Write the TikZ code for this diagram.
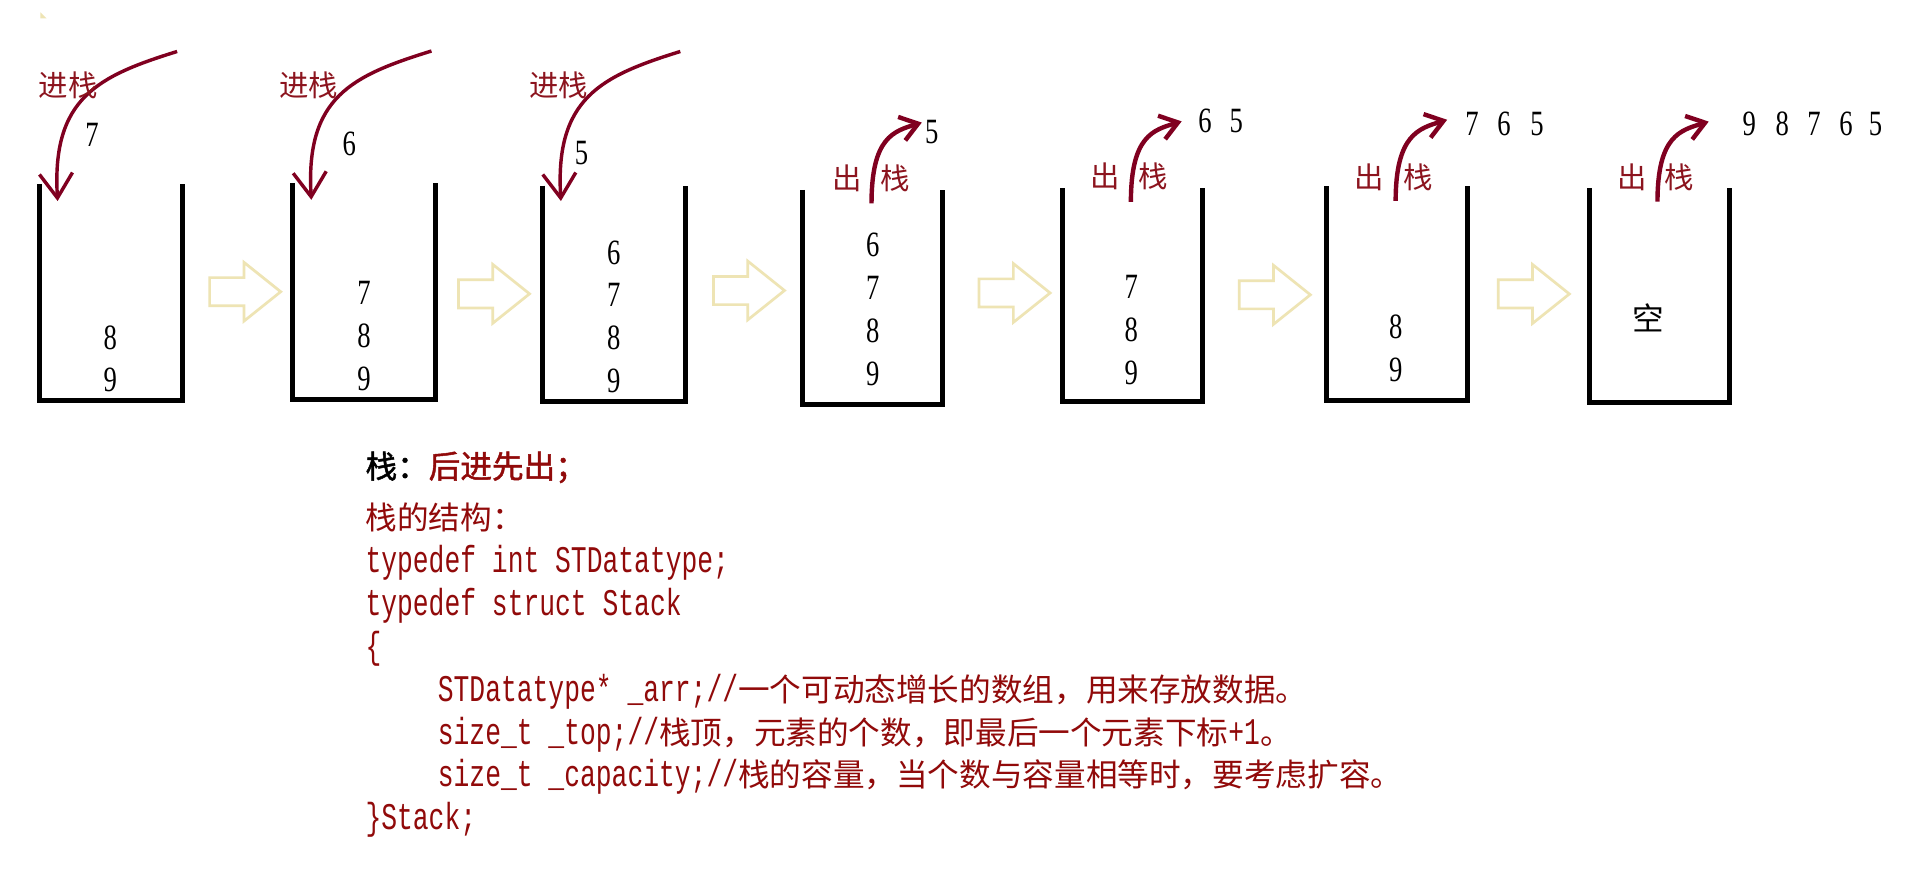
\documentclass[tikz,border=0pt]{standalone}
\usepackage{fontspec}
\usetikzlibrary{arrows.meta}
\newfontfamily\cjk{Noto Sans CJK SC}
\newfontfamily\cjkb[FakeBold=1.5]{Noto Sans CJK SC}
\newfontfamily\digitfont[FakeStretch=0.75]{Liberation Serif}
\newfontfamily\codefont[FakeStretch=0.7]{Liberation Mono}
\newcommand\cjs{\cjk\fontsize{25.8}{35}\selectfont}
\definecolor{arrowred}{RGB}{128,0,32}
\definecolor{labelred}{RGB}{140,20,30}
\definecolor{codered}{RGB}{145,10,10}
\definecolor{beige}{RGB}{238,228,180}
\newcommand\stk[4]{\draw[wall] (#1,#3) -- (#1,#4) -- (#2,#4) -- (#2,#3);}
\newcommand\hol[3]{\draw[hollow] (#2,#3-11.5) -- (#2+28,#3-11.5) -- (#2+28,#3-24) -- (#2+58,#3) -- (#2+28,#3+24) -- (#2+28,#3+11.5) -- (#2,#3+11.5) -- cycle;}
\newcommand\inarr[5]{\coordinate (#1s) at (#2,#3); \coordinate (#1t) at (#4,#5);
  \draw[inarrow] (#1s) .. controls +(-64.5,20) and +(-5,-84) .. (#1t);}
\newcommand\outarr[5]{\coordinate (#1s) at (#2,#3); \coordinate (#1t) at (#4,#5);
  \draw[outarrow] (#1s) .. controls +(0,-54) and +(-23,7) .. (#1t);}
\begin{document}
\begin{tikzpicture}[x=1pt,y=-1pt,
  wall/.style={line width=4pt, line join=miter},
  hollow/.style={draw=beige, line width=2.2pt, line join=miter},
  inarrow/.style={draw=arrowred, line width=2.8pt, -{Straight Barb[length=20pt,width=27pt]}},
  outarrow/.style={draw=arrowred, line width=3.6pt, -{Straight Barb[length=14pt,width=20pt]}},
  dig/.style={font=\digitfont\fontsize{29}{29}\selectfont, inner sep=0pt},
  lab/.style={font=\cjk\fontsize{24}{24}\selectfont, text=labelred, inner sep=0pt},
  code/.style={anchor=base west, inner sep=0pt, text=codered, font=\codefont\fontsize{30.7}{35}\selectfont},
  cj/.style={font=\cjs}
]
\fill[white] (0,0) rectangle (1568,723);
\useasboundingbox (0,0) rectangle (1568,723);
\fill[beige] (33,10) -- (38,15) -- (33,15) -- cycle;

% stacks
\stk{32}{149}{150}{327}
\stk{238.6}{355.6}{149.5}{325.6}
\stk{442.6}{558.9}{151.4}{327.8}
\stk{655}{769}{155}{330}
\stk{867}{981}{153.6}{327.8}
\stk{1082}{1197}{152}{327}
\stk{1296.6}{1410.6}{153.6}{328}

% hollow arrows
\hol{h1}{171}{238}
\hol{h2}{374}{239.7}
\hol{h3}{582}{237}
\hol{h4}{798.7}{239}
\hol{h5}{1011}{240.5}
\hol{h6}{1222.3}{239.8}

% stack contents
\node[dig] (a8) at (90,275.5) {8};
\node[dig] (a9) at (90,310) {9};
\node[dig] (b7) at (297,239) {7};
\node[dig] (b8) at (297,274) {8};
\node[dig] (b9) at (297,309) {9};
\node[dig] (c6) at (500.8,206) {6};
\node[dig] (c7) at (500.8,240.7) {7};
\node[dig] (c8) at (500.8,275.5) {8};
\node[dig] (c9) at (500.8,310.7) {9};
\node[dig] (d6) at (712,200) {6};
\node[dig] (d7) at (712,235) {7};
\node[dig] (d8) at (712,270) {8};
\node[dig] (d9) at (712,305) {9};
\node[dig] (e7) at (923,234) {7};
\node[dig] (e8) at (923,269) {8};
\node[dig] (e9) at (923,304) {9};
\node[dig] (f8) at (1138.6,267) {8};
\node[dig] (f9) at (1138.6,301.6) {9};
\node[cj] (g0) at (1345,259) {空};

% push arrows
\inarr{p1}{144.5}{42}{47}{164}
\inarr{p2}{352}{41.6}{254}{163}
\inarr{p3}{555}{42}{457.6}{164}
\node[lab] (pl1) at (55.7,69.6) {进栈};
\node[lab] (pl2) at (252,69.5) {进栈};
\node[lab] (pl3) at (455.7,70) {进栈};
\node[dig] (pn1) at (75,110) {7};
\node[dig] (pn2) at (285,117) {6};
\node[dig] (pn3) at (474.5,125) {5};

% pop arrows
\outarr{q4}{711}{166}{752}{100}
\outarr{q5}{922.6}{164.6}{964}{99}
\outarr{q6}{1138.6}{163.8}{1180.6}{97.7}
\outarr{q7}{1352.2}{164.5}{1394}{99.2}
\node[lab] (c4a) at (691,145.4) {出};
\node[lab] (c4b) at (730,145.4) {栈};
\node[lab] (c5a) at (901.7,144) {出};
\node[lab] (c5b) at (940.8,144) {栈};
\node[lab] (c6a) at (1117.4,144.7) {出};
\node[lab] (c6b) at (1156.9,144.7) {栈};
\node[lab] (c7a) at (1331.6,145) {出};
\node[lab] (c7b) at (1370.2,145) {栈};
\node[dig] (o4) at (760.2,108) {5};
\node[dig] (o5a) at (983,99) {6};
\node[dig] (o5b) at (1008.5,99) {5};
\node[dig] (o6a) at (1201,101) {7};
\node[dig] (o6b) at (1227,101) {6};
\node[dig] (o6c) at (1254,101) {5};
\node[dig] (o7a) at (1427,101) {9};
\node[dig] (o7b) at (1454,101) {8};
\node[dig] (o7c) at (1480,101) {7};
\node[dig] (o7d) at (1506,101) {6};
\node[dig] (o7e) at (1530,101) {5};

% text block
\node[anchor=base west, inner sep=0pt, font=\cjkb\fontsize{25.8}{30}\selectfont] (t0) at (298,390)
  {{\color{black}栈：}{\color{codered}后进先出；}};
\node[code, font=\cjs] (t1) at (298,432) {栈的结构：};
\node[code] (t2) at (298,467) {typedef int STDatatype;};
\node[code] (t3) at (298,502) {typedef struct Stack};
\node[code] (t4) at (298,537) {\{};
\node[code] (t5) at (357,572) {STDatatype* \_arr;//{\cjs 一个可动态增长的数组，用来存放数据。}};
\node[code] (t6) at (357,607) {size\_t \_top;//{\cjs 栈顶，元素的个数，即最后一个元素下标}+1{\cjs 。}};
\node[code] (t7) at (357,642) {size\_t \_capacity;//{\cjs 栈的容量，当个数与容量相等时，要考虑扩容。}};
\node[code] (t8) at (298,677) {\}Stack;};
\end{tikzpicture}
\end{document}
